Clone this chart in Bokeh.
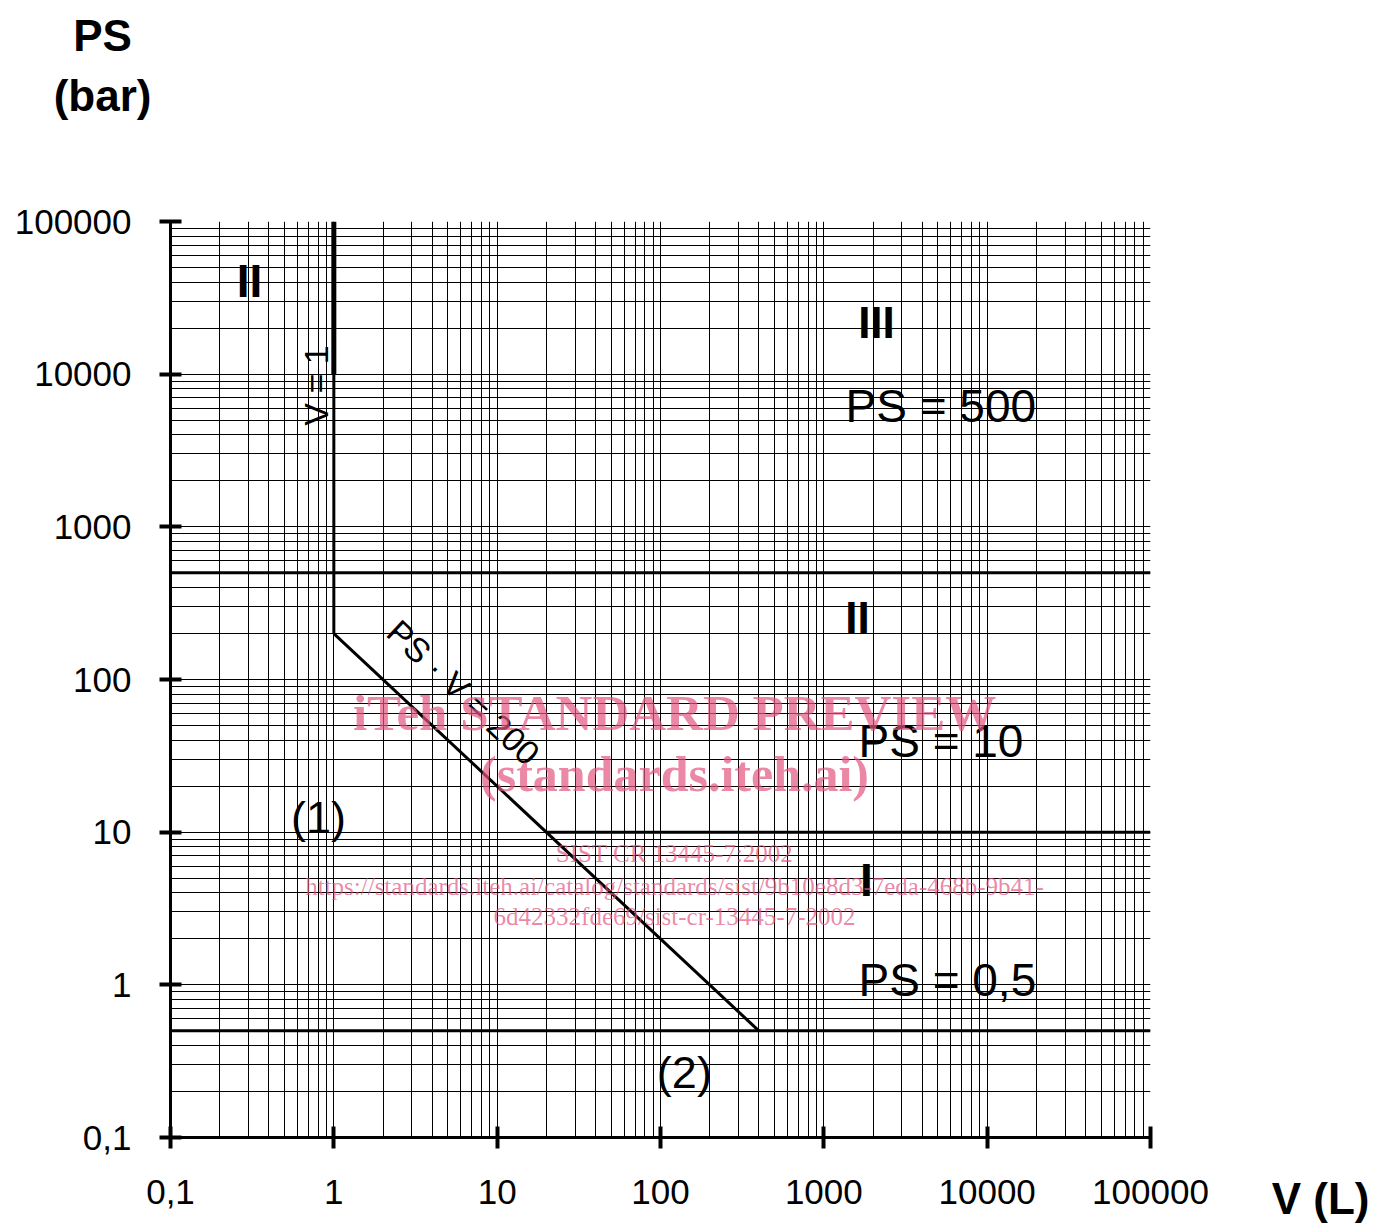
from bokeh.plotting import figure
from bokeh.models import Range1d, FixedTicker, Label
from bokeh.embed import file_html
from bokeh.resources import INLINE
import math

# ---- data ----
x_ticks = [0.1, 1, 10, 100, 1000, 10000, 100000]
x_tick_labels = ["0,1", "1", "10", "100", "1000", "10000", "100000"]
y_ticks = [0.1, 1, 10, 100, 1000, 10000, 100000]
y_tick_labels = ["0,1", "1", "10", "100", "1000", "10000", "100000"]

# boundary lines (V in L, PS in bar)
v1_lower_v = [1, 1]
v1_lower_ps = [200, 10000]
v1_upper_v = [1, 1]
v1_upper_ps = [10000, 100000]
ps500_v = [0.1, 100000]
ps500_ps = [500, 500]
ps10_v = [20, 100000]
ps10_ps = [10, 10]
ps05_v = [0.1, 100000]
ps05_ps = [0.5, 0.5]
diag_v = [1, 400]
diag_ps = [200, 0.5]

minor = [k * 10.0 ** d for d in range(-1, 5) for k in range(2, 10)]

W, H = 1374, 1227
p = figure(width=W, height=H, x_axis_type="log", y_axis_type="log",
           x_range=Range1d(0.1, 100000), y_range=Range1d(0.1, 100000),
           output_backend="svg", toolbar_location=None, title_location=None,
           min_border_left=170, min_border_right=W - 1150,
           min_border_top=221, min_border_bottom=H - 1137)
p.outline_line_color = None
p.background_fill_color = "white"

xt = FixedTicker(ticks=x_ticks, minor_ticks=minor)
yt = FixedTicker(ticks=y_ticks, minor_ticks=minor)
p.xaxis.ticker = xt
p.yaxis.ticker = yt
p.xgrid.ticker = xt
p.ygrid.ticker = yt
p.xaxis.major_label_overrides = {t: s for t, s in zip(x_ticks, x_tick_labels)}
p.yaxis.major_label_overrides = {t: s for t, s in zip(y_ticks, y_tick_labels)}

for ax in (p.xaxis, p.yaxis):
    ax.axis_line_width = 3
    ax.axis_line_color = "black"
    ax.major_tick_line_width = 4
    ax.major_tick_line_color = "black"
    ax.major_tick_in = 11
    ax.major_tick_out = 11
    ax.minor_tick_line_color = None
    ax.major_label_text_font = "Liberation Sans"
    ax.major_label_text_font_size = "35px"
    ax.major_label_text_color = "black"
p.yaxis.major_label_standoff = 28
p.xaxis.major_label_standoff = 31

for g in (p.xgrid, p.ygrid):
    g.grid_line_color = "black"
    g.grid_line_width = 1
    g.grid_line_alpha = 1.0
    g.minor_grid_line_color = "black"
    g.minor_grid_line_width = 1
    g.minor_grid_line_alpha = 1.0

# thick boundary lines
p.line(v1_lower_v, v1_lower_ps, line_color="black", line_width=3)
p.line(v1_upper_v, v1_upper_ps, line_color="black", line_width=5)
p.line(ps500_v, ps500_ps, line_color="black", line_width=3)
p.line(ps10_v, ps10_ps, line_color="black", line_width=3)
p.line(ps05_v, ps05_ps, line_color="black", line_width=3)
p.line(diag_v, diag_ps, line_color="black", line_width=3)


def mk(x, y, text, size, bold=False, align="center", baseline="middle",
       angle=0, font="Liberation Sans", color="black", alpha=1.0):
    return Label(x=x, y=y, text=text, text_font=font,
                 text_font_size=size,
                 text_font_style="bold" if bold else "normal",
                 text_align=align, text_baseline=baseline,
                 angle=angle, text_color=color, text_alpha=alpha)


def lab(*a, **k):
    p.add_layout(mk(*a, **k))


# axis titles (outside the frame -> placed in side panels so they are not clipped)
p.add_layout(mk(0.0384, 1.65e6, "PS", "44px", bold=True), "above")
p.add_layout(mk(0.0384, 6.68e5, "(bar)", "44px", bold=True), "above")
p.add_layout(mk(1.1e6, 0.0398, "V (L)", "44px", bold=True), "right")

# region labels
lab(0.305, 4.1e4, "II", "46px", bold=True)
lab(2100, 2.18e4, "III", "44px", bold=True)
lab(1358, 6232, "PS = 500", "46px", align="left")
lab(1607, 254.7, "II", "44px", bold=True)
lab(1630, 39.85, "PS = 10", "46px", align="left")
lab(1825, 4.825, "I", "46px", bold=True)
lab(1630, 1.068, "PS = 0,5", "46px", align="left")
lab(0.805, 12.47, "(1)", "45px")
lab(140, 0.2666, "(2)", "45px")
lab(0.773, 8430, "V = 1", "34px", angle=math.pi / 2)
ang = -math.atan(152.67 / 163.33)
lab(6.22, 82.2, "PS · V = 200", "34px", angle=ang)

# watermark
wm = "#e2557f"
lab(121.9, 60.0, "iTeh STANDARD PREVIEW", "51px", bold=True,
    font="Liberation Serif", color=wm, alpha=0.7)
lab(121.9, 24.0, "(standards.iteh.ai)", "50px", bold=True,
    font="Liberation Serif", color=wm, alpha=0.7)
lab(121.9, 7.2, "SIST CR 13445-7:2002", "25px",
    font="Liberation Serif", color=wm, alpha=0.7)
lab(121.9, 4.4, "https://standards.iteh.ai/catalog/standards/sist/9b10e8d3-7eda-468b-9b41-",
    "25px", font="Liberation Serif", color=wm, alpha=0.7)
lab(121.9, 2.8, "6d42332fde69/sist-cr-13445-7-2002", "25px",
    font="Liberation Serif", color=wm, alpha=0.7)

open("out.html", "w").write(file_html(p, INLINE))
